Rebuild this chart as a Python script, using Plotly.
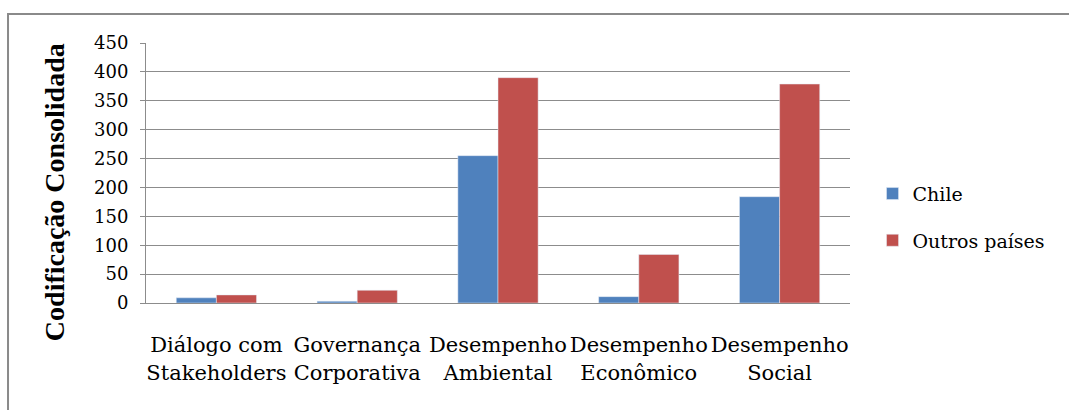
import plotly.graph_objects as go

categories = ["Diálogo com<br>Stakeholders", "Governança<br>Corporativa",
              "Desempenho<br>Ambiental", "Desempenho<br>Econômico", "Desempenho<br>Social"]
chile = [9, 3, 255, 11, 184]
outros = [14, 22, 390, 84, 379]
yticks = [0, 50, 100, 150, 200, 250, 300, 350, 400, 450]

FONT = "DejaVu Serif"
TITLE_FONT = "Liberation Serif"

fig = go.Figure()
fig.add_trace(go.Bar(x=categories, y=chile, name="Chile", marker_color="#4F81BD",
                     legendgroup="a"))
fig.add_trace(go.Bar(x=categories, y=outros, name="Outros países", marker_color="#C0504D",
                     legendgroup="b"))

fig.update_layout(
    width=1069, height=410,
    margin=dict(l=146, r=219, t=43, b=107),
    paper_bgcolor="white", plot_bgcolor="white",
    barmode="group", bargap=0.43, bargroupgap=0,
    font=dict(family=FONT, color="black"),
    legend=dict(x=1.032, y=0.33, xanchor="left", yanchor="middle",
                font=dict(family=FONT, size=19, color="black"), tracegroupgap=19,
                traceorder="grouped", itemwidth=30),
    showlegend=True,
)
fig.update_yaxes(
    range=[0, 450], tickvals=yticks, ticktext=[str(v) for v in yticks],
    showgrid=True, gridcolor="#8c8c8c", gridwidth=1,
    showline=True, linecolor="#8c8c8c", linewidth=1,
    ticks="outside", ticklen=5, tickcolor="#8c8c8c",
    tickfont=dict(family=FONT, size=18, color="black"),
    ticklabelstandoff=8,
    zeroline=False,
)
fig.update_xaxes(
    showline=True, linecolor="#8c8c8c", linewidth=1,
    ticks="", tickfont=dict(family=FONT, size=21, color="black"),
    ticklabelstandoff=23,
)
fig.add_annotation(text="<b>Codificação Consolidada</b>", textangle=-90,
                   xref="paper", yref="paper", x=-0.129, y=0.427,
                   xanchor="center", yanchor="middle", showarrow=False,
                   font=dict(family=TITLE_FONT, size=28, color="black"))
fig.add_shape(type="rect", xref="paper", yref="paper",
              x0=-0.196, x1=1.33, y0=-0.6, y1=1.1115,
              line=dict(color="#8a8a8a", width=2), fillcolor="rgba(0,0,0,0)", layer="below")

fig.write_html("out.html")
